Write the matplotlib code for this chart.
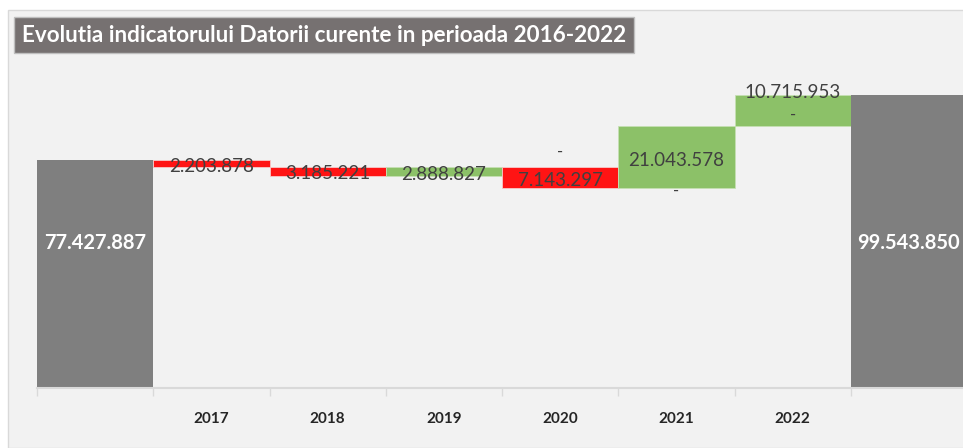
import matplotlib.pyplot as plt
from matplotlib.patches import Rectangle

# Data (waterfall)
categories = ["", "2017", "2018", "2019", "2020", "2021", "2022", ""]
start_value = 77427887
changes = [-2203878, -3185221, 2888827, -7143297, 21043578, 10715953]
end_value = 99543850

plt.rcParams['font.family'] = ['Lato', 'DejaVu Sans']

W, H = 963, 448
fig = plt.figure(figsize=(W / 100, H / 100), dpi=100, facecolor="white")

# light grey chart panel
fig.patches.append(Rectangle((8 / W, 0), 1, 1 - 10 / H, transform=fig.transFigure,
                             facecolor="#f2f2f2", edgecolor="#d9d9d9", lw=1, zorder=-5))

# axes: x from 37px to 967px, baseline at 388px, top at 70px
ax = fig.add_axes([37 / W, 1 - 388 / H, 930 / W, (388 - 70) / H])
ax.set_facecolor("none")
ax.set_zorder(2)

def fmt(v):
    return f"{abs(v):,}".replace(",", ".")

grey, red, green, txt = "#7f7f7f", "#ff1414", "#8cc168", "#404040"

# start bar
ax.bar(0, start_value, width=1, color=grey)
ax.text(0, 49.2e6, fmt(start_value), ha="center", va="center",
        color="white", fontsize=14.5, fontweight="bold")

level = start_value
for i, ch in enumerate(changes, start=1):
    bottom = level if ch > 0 else level + ch
    ax.bar(i, abs(ch), bottom=bottom, width=1, color=green if ch > 0 else red,
           edgecolor="#f7c9c9" if ch < 0 else "#c6e0b4", lw=0.6)
    mid = bottom + abs(ch) / 2
    dy = -2
    if i == 6:
        dy = 13
    ax.annotate(fmt(ch), (i, mid), xytext=(0, dy), textcoords="offset points",
                ha="center", va="center", color=txt, fontsize=13.5)
    level += ch

# zero-value placeholder labels
ax.annotate("-", (4, start_value + sum(changes[:3])), xytext=(0, 11),
            textcoords="offset points", ha="center", va="center", color=txt, fontsize=12)
ax.annotate("-", (5, start_value + sum(changes[:4])), xytext=(0, -2),
            textcoords="offset points", ha="center", va="center", color=txt, fontsize=12)
ax.annotate("-", (6, start_value + sum(changes[:5]) + changes[5] / 2), xytext=(0, -3),
            textcoords="offset points", ha="center", va="center", color=txt, fontsize=12)

# end bar
ax.bar(7, end_value, width=1, color=grey)
ax.text(7, 49.2e6, fmt(end_value), ha="center", va="center",
        color="white", fontsize=14.5, fontweight="bold")

ax.set_xlim(-0.5, 7.5)
ax.set_ylim(0, 108e6)
ax.set_yticks([])
for s in ["top", "right", "left"]:
    ax.spines[s].set_visible(False)
ax.spines["bottom"].set_color("#d9d9d9")
ax.spines["bottom"].set_linewidth(1.5)

ax.set_xticks([x - 0.5 for x in range(9)])
ax.set_xticklabels([])
ax.tick_params(axis="x", which="major", length=6, color="#d9d9d9", width=1)
ax.set_xticks(range(8), minor=True)
ax.set_xticklabels(categories, minor=True, fontsize=11, fontweight="bold", color="#262626")
ax.tick_params(axis="x", which="minor", length=0, pad=17)

# title box
fig.text(22 / W, 1 - 35 / H, "Evolutia indicatorului Datorii curente in perioada 2016-2022",
         ha="left", va="center", color="white", fontsize=16.2, fontweight="bold",
         bbox=dict(boxstyle="square,pad=0.35", facecolor="#767171", edgecolor="#bfbfbf", lw=1))

fig.savefig("out.png", dpi=100, facecolor="white")
